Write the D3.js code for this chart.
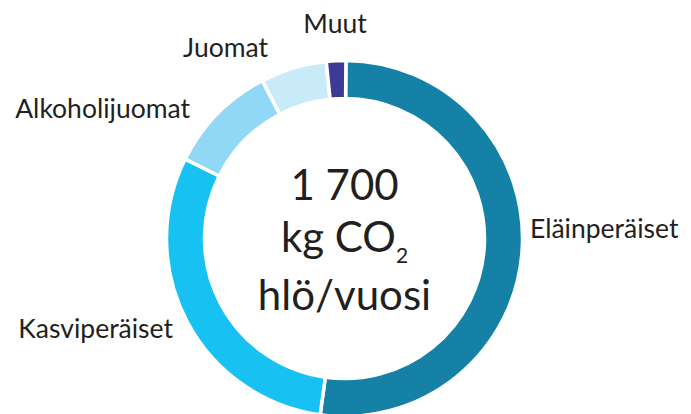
<!DOCTYPE html>
<html><head><meta charset="utf-8">
<script src="https://cdn.jsdelivr.net/npm/d3@7"></script>
<style>body{margin:0;background:#fff}svg{display:block}text{font-family:Lato,"Open Sans",sans-serif;fill:#231f20}</style>
</head><body>
<svg id="c" width="691" height="414"></svg>
<script>
const categories = ["Eläinperäiset","Kasviperäiset","Alkoholijuomat","Juomat","Muut"];
const values = [885, 513, 170, 102, 30];
const colors = ["#1581a7","#17c2f3","#90d8f6","#c8eaf9","#3e3996"];
const centerLines = ["1 700","kg CO","hlö/vuosi"];

const W=691,H=414, cx=344.5, cy=238.5, R=178, r=140;
// label anchor offsets from centre (layout only)
const labelLayout = [
  {dx:185.5, dy:-0.5, anchor:"start"},
  {dx:-171.5, dy:99, anchor:"end"},
  {dx:-154.5, dy:-120.5, anchor:"end"},
  {dx:-76.5, dy:-181.5, anchor:"end"},
  {dx:-9.5, dy:-205.5, anchor:"middle"}
];
const svg=d3.select("#c");
const g=svg.append("g").attr("transform",`translate(${cx},${cy})`);
const data=categories.map((c,i)=>({name:c,value:values[i],color:colors[i]}));
const pie=d3.pie().value(d=>d.value).sort(null).startAngle(0.008).endAngle(2*Math.PI+0.008);
const arc=d3.arc().innerRadius(r).outerRadius(R);
g.selectAll("path").data(pie(data)).join("path")
  .attr("d",arc).attr("fill",d=>d.data.color)
  .attr("stroke","#fff").attr("stroke-width",3.5).attr("stroke-linejoin","miter");

g.selectAll("text.lab").data(data).join("text").attr("class","lab")
  .attr("x",(d,i)=>labelLayout[i].dx).attr("y",(d,i)=>labelLayout[i].dy)
  .attr("text-anchor",(d,i)=>labelLayout[i].anchor)
  .attr("font-size",26.5).text(d=>d.name);

g.append("text").attr("text-anchor","middle").attr("y",-38.5).attr("font-size",42).text(centerLines[0]);
const t2=g.append("text").attr("text-anchor","middle").attr("y",13.5).attr("font-size",42);
t2.append("tspan").text(centerLines[1]);
t2.append("tspan").attr("font-size",21).attr("dy",11).text("2");
g.append("text").attr("text-anchor","middle").attr("y",71.5).attr("font-size",42).text(centerLines[2]);
</script>
</body></html>
